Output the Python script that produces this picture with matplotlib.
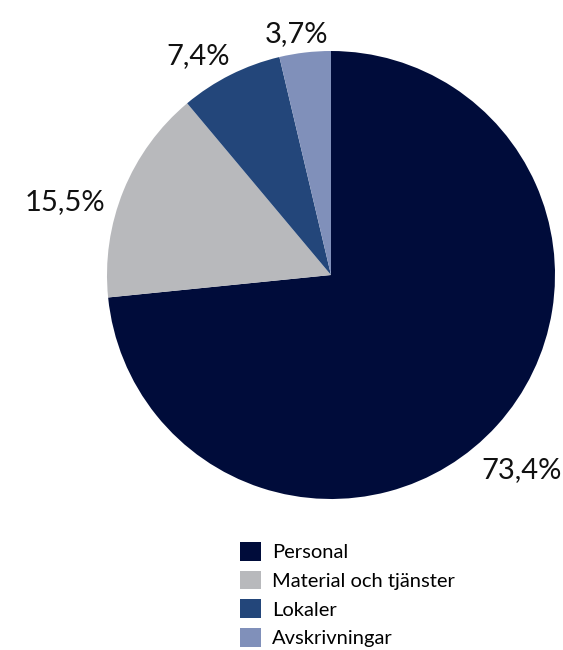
import numpy as np
import matplotlib.pyplot as plt

plt.rcParams['font.family'] = ['Lato', 'DejaVu Sans']

categories = ['Personal', 'Material och tjänster', 'Lokaler', 'Avskrivningar']
shares = [73.4, 15.5, 7.4, 3.7]
pct_labels = ['73,4%', '15,5%', '7,4%', '3,7%']
colors = ['#000c3a', '#b8b9bc', '#23467a', '#8090ba']

# per-label radial distance and angle nudge (degrees)
label_dist = [1.21, 1.24, 1.15, 1.09]
label_nudge = [-4, 7, 5, 2]

fig = plt.figure(figsize=(5.63, 6.5), dpi=100)
ax = fig.add_axes([107 / 563, 151 / 650, 448 / 563, 448 / 650])

wedges, _ = ax.pie(shares, colors=colors, startangle=90, counterclock=False,
                   radius=1.0, wedgeprops=dict(linewidth=0))
ax.set_xlim(-1, 1)
ax.set_ylim(-1, 1)
ax.set_aspect('equal')

for w, txt, d, nud in zip(wedges, pct_labels, label_dist, label_nudge):
    ang = np.deg2rad((w.theta1 + w.theta2) / 2 + nud)
    ax.text(d * np.cos(ang) + 0.01, d * np.sin(ang), txt, ha='center', va='center',
            fontsize=21, color='#111111', clip_on=False)

leg = fig.legend(wedges, categories, loc='upper left',
                 bbox_to_anchor=(240 / 563, 1 - 542 / 650), frameon=False,
                 fontsize=14.5, handlelength=1.05, handleheight=1.05,
                 handletextpad=0.55, labelspacing=0.47, borderpad=0,
                 borderaxespad=0)

fig.savefig('out.png', dpi=100)
